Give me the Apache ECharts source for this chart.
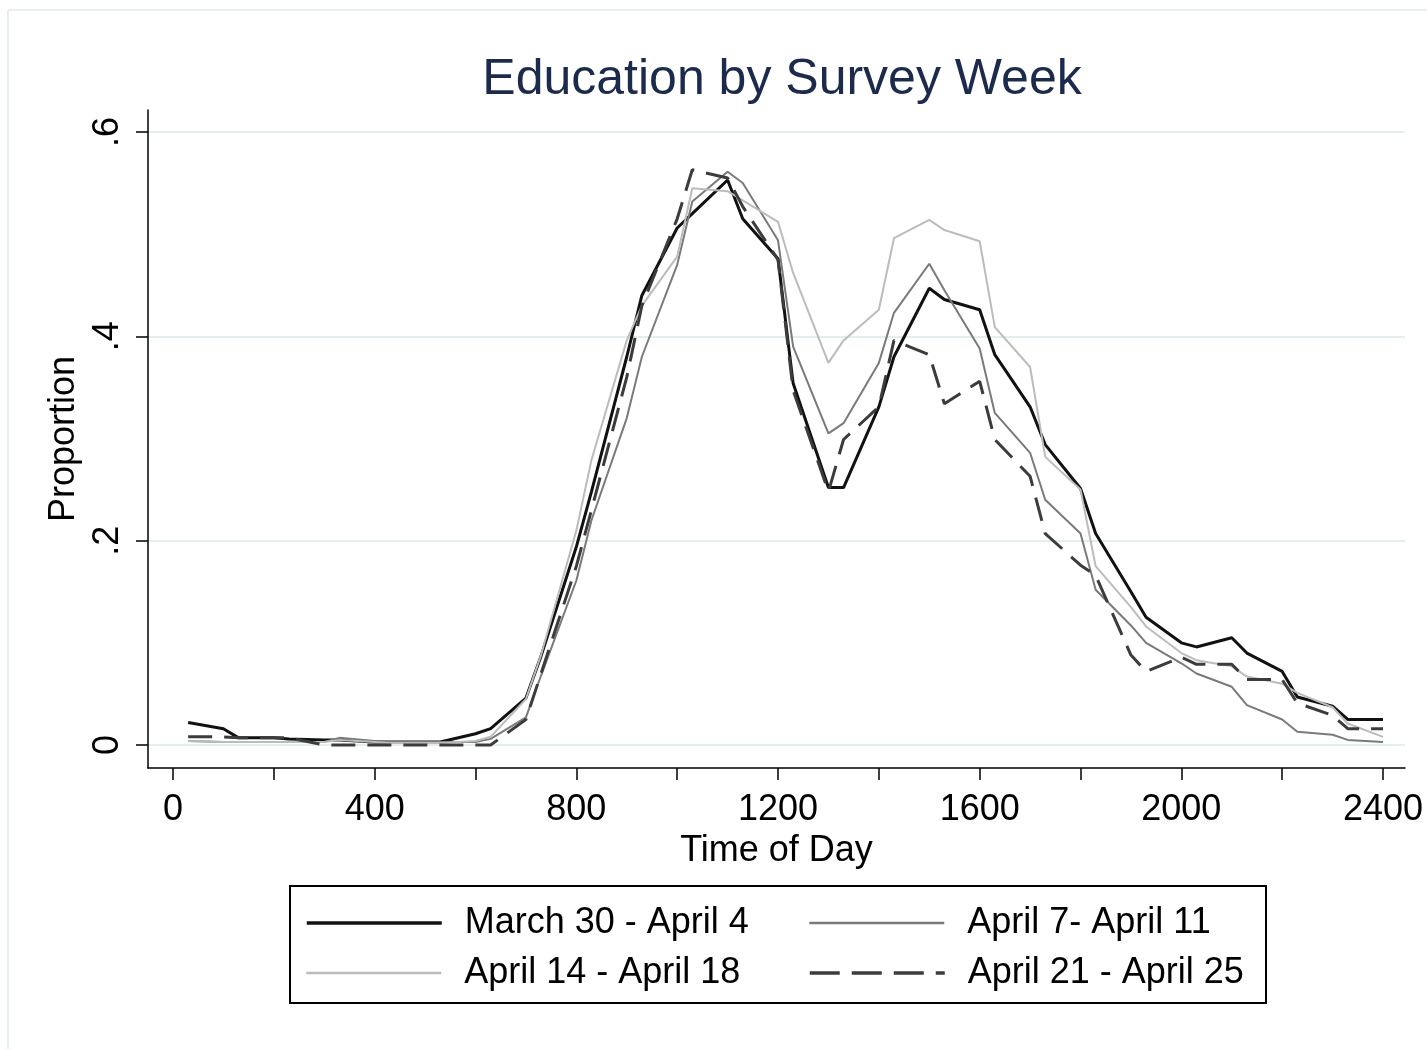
<!DOCTYPE html>
<html>
<head>
<meta charset="utf-8">
<title>Education by Survey Week</title>
<script src="https://cdn.jsdelivr.net/npm/echarts@6/dist/echarts.min.js"></script>
<style>
  html, body { margin: 0; padding: 0; background: #ffffff; }
  #chart { width: 1427px; height: 1049px; }
</style>
</head>
<body>
<div id="chart"></div>
<script>
// Half-hour time points, HHMM clock format
const times = [30, 100, 130, 200, 230, 300, 330, 400, 430, 500, 530, 600,
  630, 700, 730, 800, 830, 900, 930, 1000, 1030, 1100, 1130, 1200,
  1230, 1300, 1330, 1400, 1430, 1500, 1530, 1600, 1630, 1700, 1730, 1800,
  1830, 1900, 1930, 2000, 2030, 2100, 2130, 2200, 2230, 2300, 2330, 2400];

const weekNames = ['March 30 - April 4', 'April 7- April 11', 'April 14 - April 18', 'April 21 - April 25'];

const march30 = [0.022, 0.016, 0.007, 0.007, 0.006, 0.005, 0.005, 0.003, 0.003, 0.003, 0.003, 0.011,
  0.016, 0.046, 0.087, 0.194, 0.248, 0.380, 0.440, 0.506, 0.520, 0.553, 0.515, 0.476,
  0.354, 0.252, 0.252, 0.331, 0.380, 0.447, 0.436, 0.426, 0.382, 0.331, 0.294, 0.251,
  0.207, 0.150, 0.125, 0.100, 0.096, 0.105, 0.090, 0.072, 0.047, 0.038, 0.025, 0.025];

const april7 = [0.004, 0.003, 0.003, 0.003, 0.003, 0.003, 0.007, 0.004, 0.003, 0.003, 0.003, 0.003,
  0.006, 0.027, 0.068, 0.161, 0.220, 0.320, 0.380, 0.470, 0.532, 0.561, 0.550, 0.494,
  0.390, 0.305, 0.315, 0.374, 0.423, 0.471, 0.445, 0.388, 0.325, 0.286, 0.240, 0.207,
  0.152, 0.117, 0.100, 0.080, 0.070, 0.057, 0.039, 0.025, 0.013, 0.010, 0.005, 0.003];

const april14 = [0.004, 0.003, 0.003, 0.003, 0.003, 0.003, 0.005, 0.003, 0.002, 0.002, 0.002, 0.004,
  0.008, 0.045, 0.088, 0.210, 0.279, 0.396, 0.430, 0.478, 0.545, 0.542, 0.533, 0.512,
  0.462, 0.374, 0.396, 0.426, 0.496, 0.514, 0.504, 0.493, 0.409, 0.370, 0.282, 0.250,
  0.175, 0.135, 0.116, 0.090, 0.083, 0.077, 0.067, 0.060, 0.051, 0.037, 0.021, 0.008];

const april21 = [0.008, 0.008, 0.007, 0.007, 0.007, 0.000, 0.000, 0.000, 0.000, 0.000, 0.000, 0.000,
  0.000, 0.025, 0.070, 0.175, 0.230, 0.360, 0.430, 0.515, 0.563, 0.555, 0.527, 0.475,
  0.347, 0.248, 0.299, 0.331, 0.396, 0.382, 0.334, 0.356, 0.299, 0.263, 0.207, 0.176,
  0.166, 0.088, 0.072, 0.086, 0.079, 0.079, 0.064, 0.064, 0.041, 0.029, 0.016, 0.016];

const xTickValues = [0, 200, 400, 600, 800, 1000, 1200, 1400, 1600, 1800, 2000, 2200, 2400];
const xLabelValues = [0, 400, 800, 1200, 1600, 2000, 2400];
const yTickValues = [0, 0.2, 0.4, 0.6];
const yTickLabels = ['0', '.2', '.4', '.6'];

const FONT = '"Liberation Sans", Arial, Helvetica, sans-serif';

const pairs = (vals) => times.map((t, i) => [t, vals[i]]);

const styles = [
  { color: '#111111', width: 3, type: 'solid' },
  { color: '#7a7a7a', width: 2, type: 'solid' },
  { color: '#bcbcbc', width: 2, type: 'solid' },
  { color: '#3c3c3c', width: 3, type: [24, 12] }
];
const seriesValues = [march30, april7, april14, april21];

const series = seriesValues.map((vals, i) => ({
  name: weekNames[i],
  type: 'line',
  data: pairs(vals),
  showSymbol: false,
  symbol: 'none',
  smooth: false,
  animation: false,
  color: styles[i].color,
  lineStyle: { color: styles[i].color, width: styles[i].width, type: styles[i].type }
}));

// One legend entry per slot, arranged as a 2 x 2 key
const legendSlots = [
  { left: 305, top: 905 },
  { left: 808, top: 905 },
  { left: 305, top: 955 },
  { left: 808, top: 955 }
];
const legends = weekNames.map((name, i) => ({
  data: [name],
  left: legendSlots[i].left,
  top: legendSlots[i].top,
  padding: 0,
  itemWidth: 135,
  itemHeight: 36,
  selectedMode: false,
  itemStyle: { opacity: 0, borderWidth: 0 },
  lineStyle: {
    color: styles[i].color,
    width: styles[i].width + 0.5,
    type: i === 3 ? [30, 12] : styles[i].type
  },
  textStyle: { fontFamily: FONT, fontSize: 36, color: '#000000', padding: [0, 0, 0, 18] }
}));

const chart = echarts.init(document.getElementById('chart'), null, { renderer: 'canvas' });

chart.setOption({
  backgroundColor: '#ffffff',
  animation: false,
  title: {
    text: 'Education by Survey Week',
    left: 777,
    top: 50,
    textAlign: 'center',
    textStyle: { fontFamily: FONT, fontSize: 50, fontWeight: 'normal', color: '#1c2a4c' }
  },
  legend: legends,
  grid: { left: 148, right: 22, top: 110, bottom: 281, containLabel: false },
  xAxis: {
    type: 'value',
    min: -49.6,
    max: 2443.6,
    name: 'Time of Day',
    nameLocation: 'middle',
    nameGap: 58,
    nameTextStyle: { fontFamily: FONT, fontSize: 36, color: '#000000' },
    axisLine: { show: true, onZero: false, lineStyle: { color: '#000000', width: 1.5 } },
    axisTick: { show: true, length: 12, customValues: xTickValues, lineStyle: { color: '#000000', width: 1.5 } },
    axisLabel: {
      customValues: xLabelValues,
      margin: 24,
      fontFamily: FONT,
      fontSize: 36,
      color: '#000000',
      formatter: (v) => String(Math.round(v))
    },
    splitLine: { show: false }
  },
  yAxis: {
    type: 'value',
    min: -0.0225,
    max: 0.6215,
    name: 'Proportion',
    nameLocation: 'middle',
    nameGap: 62,
    nameTextStyle: { fontFamily: FONT, fontSize: 36, color: '#000000' },
    axisLine: { show: true, onZero: false, lineStyle: { color: '#000000', width: 1.5 } },
    axisTick: { show: true, length: 12, customValues: yTickValues, lineStyle: { color: '#000000', width: 1.5 } },
    axisLabel: {
      customValues: yTickValues,
      rotate: 90,
      margin: 22,
      fontFamily: FONT,
      fontSize: 36,
      color: '#000000',
      formatter: (v) => {
        const k = yTickValues.findIndex((t) => Math.abs(t - v) < 1e-9);
        return k >= 0 ? yTickLabels[k] : '';
      }
    },
    splitLine: { show: true, lineStyle: { color: '#e4eef0', width: 2 } }
  },
  graphic: [
    // outer frame of the graph region
    { type: 'line', shape: { x1: 8, y1: 10, x2: 1427, y2: 10 }, style: { stroke: '#e6eef0', lineWidth: 2 }, silent: true },
    { type: 'line', shape: { x1: 8, y1: 10, x2: 8, y2: 1049 }, style: { stroke: '#e6eef0', lineWidth: 2 }, silent: true },
    // key box
    { type: 'rect', shape: { x: 290, y: 886, width: 976, height: 117 }, style: { fill: 'none', stroke: '#000000', lineWidth: 2 }, silent: true, z: 0 }
  ],
  series: series
});
</script>
</body>
</html>
